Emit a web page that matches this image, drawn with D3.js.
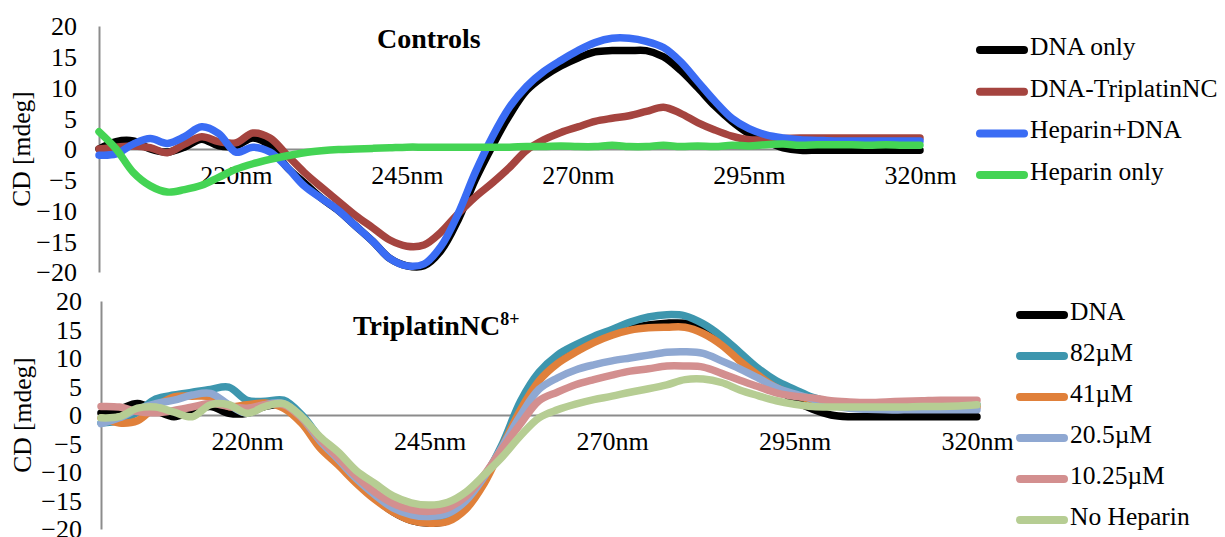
<!DOCTYPE html>
<html>
<head>
<meta charset="utf-8">
<script src="https://cdn.jsdelivr.net/npm/d3@7"></script>
<style>
body { margin: 0; background: #fff; }
svg { display: block; }
</style>
</head>
<body>
<svg id="chart" width="1225" height="537"></svg>
<script>
// wavelength grid (nm), shared by every series
const wavelengths = [200, 202.5, 205, 207.5, 210, 212.5, 215, 217.5, 220, 222.5, 225, 227.5, 230, 232.5, 235, 237.5, 240, 242.5, 245, 247.5, 250, 252.5, 255, 257.5, 260, 262.5, 265, 267.5, 270, 272.5, 275, 277.5, 280, 282.5, 285, 287.5, 290, 292.5, 295, 297.5, 300, 302.5, 305, 307.5, 310, 312.5, 315, 317.5, 320];

const xTicks = [220, 245, 270, 295, 320];
const yTicks = [-20, -15, -10, -5, 0, 5, 10, 15, 20];

// top panel: Controls
const controlNames = ['DNA only', 'DNA-TriplatinNC', 'Heparin+DNA', 'Heparin only'];
const dnaOnly = [0, 1.2, 1.3, 0, -0.5, 0.3, 1.6, 0.5, 0.5, 1.8, 0.5, -3, -5.5, -8, -10, -12.5, -15, -17.8, -19, -19, -16.5, -11.5, -5, 0.5, 5.5, 9.5, 11.8, 13.5, 14.8, 15.8, 16, 16, 16, 15, 12.8, 10, 7, 4.5, 2.5, 1.2, 0.2, -0.2, -0.2, -0.2, -0.2, -0.2, -0.2, -0.2, -0.2];
const dnaTriplatin = [0, 0.3, 0.5, 0.2, -0.6, 0.8, 2, 1.2, 1, 2.6, 1.8, -1, -3.8, -6.2, -8.5, -10.8, -12.8, -14.8, -15.8, -15.6, -13.5, -10.5, -7.8, -5.5, -3, -0.2, 1.5, 2.7, 3.6, 4.5, 5, 5.4, 6.1, 6.8, 5.8, 4.3, 3.1, 2.1, 1.5, 1.5, 1.7, 1.8, 1.8, 1.8, 1.8, 1.8, 1.8, 1.8, 1.8];
const heparinDna = [-1, -0.8, 0.8, 1.7, 0.9, 2, 3.6, 2.5, -0.5, 0.3, -0.5, -3, -6, -8, -10, -12.5, -15, -17.8, -19, -18.7, -15.8, -10.5, -3.8, 2, 6.8, 10.2, 12.6, 14.4, 16, 17.3, 18, 18, 17.5, 16.5, 14.2, 11, 7.8, 5, 3.3, 2.3, 1.8, 1.5, 1.4, 1.3, 1.3, 1.3, 1.3, 1.3, 1.3];
const heparinOnly = [2.8, 0, -3.8, -6, -7, -6.6, -5.9, -4.6, -3.3, -2.4, -1.7, -1.1, -0.6, -0.3, -0.1, 0, 0.1, 0.2, 0.3, 0.3, 0.3, 0.3, 0.3, 0.3, 0.3, 0.4, 0.4, 0.5, 0.4, 0.4, 0.6, 0.4, 0.4, 0.6, 0.4, 0.5, 0.4, 0.6, 0.5, 0.7, 0.8, 0.6, 0.7, 0.7, 0.7, 0.6, 0.7, 0.6, 0.6];
const controlColors = ['#000000', '#a5443f', '#3a6cf4', '#44d454'];

// bottom panel: TriplatinNC8+
const tripNames = ['DNA', '82\u00b5M', '41\u00b5M', '20.5\u00b5M', '10.25\u00b5M', 'No Heparin'];
const tripDna = [0.3, 1, 2, 0.8, -0.3, 0.8, 1.5, 0.3, 0.3, 1.5, 1.8, -1, -4.5, -8, -11.5, -14.5, -17, -18.5, -19, -18.5, -16, -11.5, -5.5, 1, 6.8, 10, 12, 13.3, 14.3, 15.2, 15.8, 16.1, 16.1, 15.3, 13.5, 10.5, 7.5, 4.8, 2.6, 1, 0, -0.3, -0.3, -0.3, -0.3, -0.3, -0.3, -0.3, -0.3];
const trip82 = [-1.4, -1, 0.5, 2.8, 3.5, 4, 4.5, 4.9, 2.6, 2.4, 2.6, 0, -4, -7.5, -11, -14, -16.5, -18, -18.5, -18, -15.5, -11, -5, 2.5, 7.5, 10.5, 12.3, 13.8, 15, 16.3, 17.2, 17.6, 17.4, 16, 13.8, 11, 8.2, 6, 4.5, 3.1, 2.3, 2, 1.8, 1.8, 1.8, 1.8, 1.8, 1.8, 1.8];
const trip41 = [-0.5, -1.4, -1, 1.5, 3.2, 3.3, 3.2, 1.5, 1.8, 2.1, 1.2, -1.5, -5.8, -8.8, -12, -14.8, -17, -18.5, -19, -18.7, -16.5, -12, -5.5, 1, 6, 9, 11, 12.7, 14, 14.9, 15.3, 15.4, 15.4, 14.3, 12.3, 9.5, 7, 4.8, 3.5, 2.6, 2, 1.6, 1.5, 1.5, 1.4, 1.4, 1.4, 1.4, 1.4];
const trip20 = [-1.5, -0.5, 1, 2, 2.6, 3.5, 3.8, 1.8, 0.3, 1.8, 2, -0.5, -4.5, -7.8, -11.2, -14, -16.3, -17.5, -17.8, -17.3, -15, -10.8, -5.5, 0, 4.5, 6.5, 7.9, 8.8, 9.5, 10, 10.5, 11, 11.1, 10.8, 9.5, 8.1, 6.5, 4.8, 3.7, 2.8, 1.8, 1.2, 1, 0.9, 0.9, 0.9, 0.9, 0.9, 0.9];
const trip10 = [1.5, 1.4, 0.6, 0.4, 0.8, 1.4, 2, 1.5, 1.2, 1.8, 1.8, -0.5, -4.2, -7.5, -10.8, -13.5, -15.5, -16.6, -16.9, -16.3, -14.3, -10.5, -5.8, -1.5, 2.5, 4, 5.3, 6.2, 7, 7.7, 8.1, 8.6, 8.6, 8.4, 7.3, 6.1, 5, 3.9, 3.3, 3, 2.5, 2.3, 2.2, 2.3, 2.4, 2.5, 2.6, 2.6, 2.6];
const tripNoHep = [-0.5, -0.3, 1.2, 1.4, 0.5, -0.3, 1.8, 1.8, 0.3, 1.5, 2, -0.3, -3.8, -6.5, -9.8, -12, -14.2, -15.4, -15.8, -15.3, -13.5, -10.5, -7.3, -3.6, -0.5, 0.9, 1.9, 2.7, 3.3, 4, 4.6, 5.3, 6.2, 6.3, 5.7, 4.4, 3.4, 2.5, 1.9, 1.5, 1.4, 1.4, 1.4, 1.4, 1.4, 1.5, 1.5, 1.6, 1.8];
const tripColors = ['#000000', '#3d96ae', '#e0803a', '#8fa8d2', '#d38f8f', '#b6cd93'];

const FONT = '"Times New Roman", "Liberation Serif", serif';
const svg = d3.select('#chart');

function drawPanel(p) {
  const x = d3.scaleLinear().domain([200, 320]).range(p.xRange);
  const y = d3.scaleLinear().domain([-20, 20]).range(p.yRange);

  // y axis
  const gy = svg.append('g')
    .attr('transform', `translate(${p.xRange[0]},0)`)
    .call(d3.axisLeft(y).tickValues(yTicks).tickSize(0).tickPadding(p.yPad));
  gy.select('.domain').attr('stroke', '#8c8c8c').attr('stroke-width', 2);
  gy.attr('font-family', FONT).attr('font-size', 26);
  gy.selectAll('text').attr('fill', '#000').attr('dy', '0.34em');

  // x axis on the zero line
  const gx = svg.append('g')
    .attr('transform', `translate(0,${y(0)})`)
    .call(d3.axisBottom(x).tickValues(xTicks).tickSize(0).tickSizeOuter(0).tickPadding(17).tickFormat(d => d + 'nm'));
  gx.select('.domain').attr('stroke', '#8c8c8c').attr('stroke-width', 2);
  gx.attr('font-family', FONT).attr('font-size', 26);
  gx.selectAll('text').attr('fill', '#000');

  // y title
  svg.append('text')
    .attr('transform', `translate(${p.yTitleX},${y(0)}) rotate(-90)`)
    .attr('text-anchor', 'middle')
    .attr('dy', '0.35em')
    .attr('font-family', FONT).attr('font-size', 25.5)
    .text('CD [mdeg]');

  // lines
  const line = d3.line()
    .x((d, i) => x(wavelengths[i]))
    .y(d => y(d))
    .curve(d3.curveCatmullRom.alpha(0.5));

  svg.append('g').selectAll('path')
    .data(p.series)
    .join('path')
    .attr('d', d => line(d))
    .attr('fill', 'none')
    .attr('stroke', (d, i) => p.colors[i])
    .attr('stroke-width', 7.5)
    .attr('stroke-linecap', 'round')
    .attr('stroke-linejoin', 'round');

  // title
  const t = svg.append('text')
    .attr('x', p.titleX).attr('y', p.titleY)
    .attr('font-family', FONT).attr('font-size', 28).attr('font-weight', 'bold')
    .text(p.title);
  if (p.titleSup) {
    t.append('tspan').attr('font-size', 18).attr('dy', -10).text(p.titleSup);
  }

  // legend
  const lg = svg.append('g').selectAll('g')
    .data(p.names)
    .join('g')
    .attr('transform', (d, i) => `translate(${p.legX},${p.legY0 + i * p.legStep})`);
  lg.append('line')
    .attr('x1', 4).attr('x2', 48)
    .attr('stroke', (d, i) => p.colors[i])
    .attr('stroke-width', 8)
    .attr('stroke-linecap', 'round');
  lg.append('text')
    .attr('x', 54).attr('y', 5)
    .attr('font-family', FONT).attr('font-size', 25.5)
    .text(d => d);
}

drawPanel({
  xRange: [99, 920], yRange: [272, 26], yPad: 22, yTitleX: 21,
  series: [dnaOnly, dnaTriplatin, heparinDna, heparinOnly],
  colors: controlColors, names: controlNames,
  title: 'Controls', titleX: 377, titleY: 48,
  legX: 976, legY0: 50, legStep: 41.7
});

drawPanel({
  xRange: [101, 977], yRange: [529, 301], yPad: 19, yTitleX: 22,
  series: [tripDna, trip82, trip41, trip20, trip10, tripNoHep],
  colors: tripColors, names: tripNames,
  title: 'TriplatinNC', titleSup: '8+', titleX: 353, titleY: 335,
  legX: 1016, legY0: 315, legStep: 41
});
</script>
</body>
</html>
